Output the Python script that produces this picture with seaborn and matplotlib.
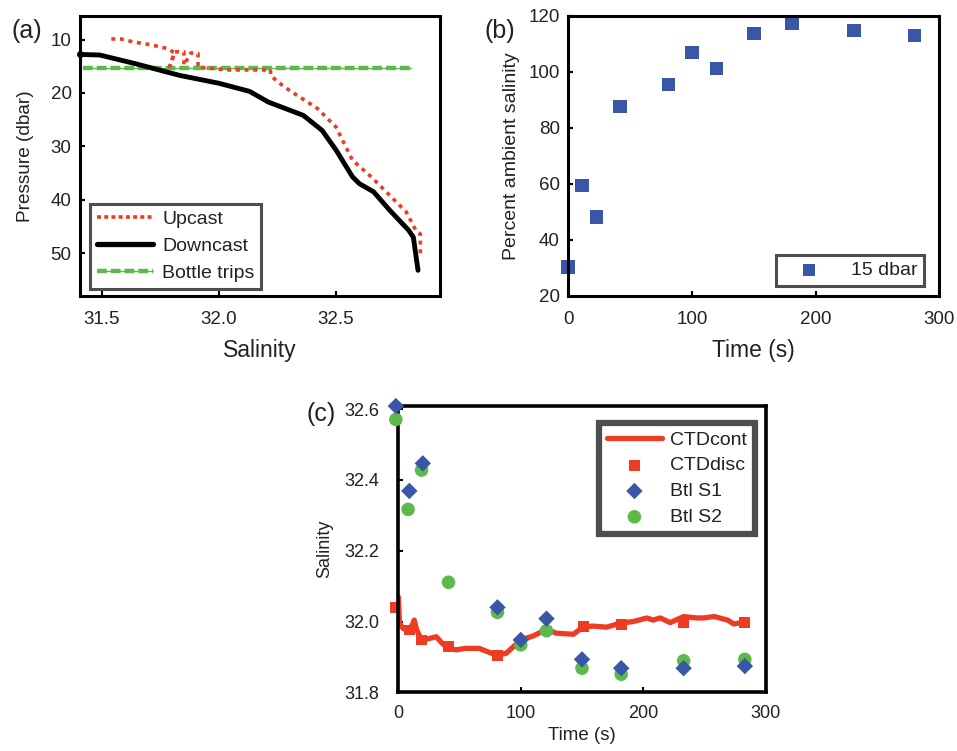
import numpy as np
import pandas as pd
import matplotlib
matplotlib.use("Agg")
import matplotlib.pyplot as plt
import seaborn as sns
from matplotlib.lines import Line2D

# ---------------- data ----------------
# (a) profiles
down_sal = [31.406, 31.49, 31.64, 31.83, 32.00, 32.13, 32.21, 32.36, 32.44, 32.50,
            32.57, 32.60, 32.66, 32.73, 32.81, 32.83, 32.85]
down_pres = [12.8, 12.9, 14.5, 16.7, 18.2, 19.7, 21.7, 24.2, 27.0, 30.7,
             35.7, 37.0, 38.5, 42.0, 45.7, 47.0, 53.2]

up_sal = [32.86, 32.86, 32.84, 32.80, 32.73, 32.65, 32.57, 32.52, 32.50, 32.42,
          32.30, 32.25, 32.22, 32.22, 32.12, 32.03, 31.95, 31.91, 31.91, 31.88,
          31.85, 31.85, 31.81, 31.79, 31.81, 31.78, 31.71, 31.64, 31.58, 31.54]
up_pres = [50.0, 46.4, 45.7, 42.3, 39.2, 35.7, 32.6, 28.2, 26.4, 22.9,
           19.5, 17.9, 16.7, 15.7, 15.7, 15.7, 15.3, 15.2, 12.6, 12.5,
           14.8, 12.3, 12.3, 15.0, 12.5, 11.7, 11.0, 10.5, 9.9, 9.9]

bottle_sal = [31.42, 32.82]
bottle_pres = [15.3, 15.3]

# (b) percent ambient salinity at 15 dbar
b_time = [0, 11, 23, 42, 81, 100, 120, 150, 181, 231, 280]
b_pct = [30.4, 59.4, 48.3, 87.6, 95.5, 106.9, 101.2, 113.7, 117.3, 114.8, 113.0]

# (c) salinity time series
cont_time = [0, 1, 4, 9, 12, 13, 15, 19, 23, 31, 36, 41, 47, 55, 66, 80, 88, 94,
             100, 110, 121, 129, 143, 151, 159, 170, 181, 192, 203, 208, 214, 222,
             233, 244, 249, 258, 269, 274, 282]
cont_sal = [32.07, 31.995, 31.98, 31.976, 31.995, 32.004, 31.976, 31.948, 31.95,
            31.957, 31.938, 31.924, 31.92, 31.924, 31.924, 31.905, 31.91, 31.929,
            31.948, 31.959, 31.978, 31.967, 31.964, 31.985, 31.987, 31.984, 31.995,
            32.0, 32.01, 32.004, 32.01, 31.997, 32.014, 32.01, 32.01, 32.014, 32.004,
            31.993, 31.998]
disc_time = [-2, 9, 19, 41, 81, 151, 182, 233, 283]
disc_sal = [32.04, 31.976, 31.948, 31.929, 31.904, 31.985, 31.992, 31.998, 31.998]
s1_time = [-2, 9, 20, 81, 100, 121, 150, 182, 233, 283]
s1_sal = [32.609, 32.369, 32.447, 32.04, 31.948, 32.008, 31.893, 31.868, 31.868, 31.874]
s2_time = [-2, 8, 19, 41, 81, 100, 121, 150, 182, 233, 283]
s2_sal = [32.571, 32.317, 32.428, 32.111, 32.026, 31.934, 31.974, 31.868, 31.851, 31.889, 31.893]

RED = "#EE3B24"
BLUE = "#3A56A6"
GREEN = "#5DB94A"
UP_DASH = (0, (1.1, 1.3))

sns.set_theme(style="white")
plt.rcParams["font.family"] = ["Liberation Sans", "DejaVu Sans"]
plt.rcParams["text.color"] = "#222222"
plt.rcParams["axes.labelcolor"] = "#222222"
plt.rcParams["xtick.color"] = "black"
plt.rcParams["ytick.color"] = "black"
plt.rcParams["xtick.labelcolor"] = "#222222"
plt.rcParams["ytick.labelcolor"] = "#222222"

fig = plt.figure(figsize=(9.57, 7.51), dpi=100)
ax_a = fig.add_axes([0.0836, 0.6059, 0.3762, 0.3728])
ax_b = fig.add_axes([0.5938, 0.6059, 0.3877, 0.3728])
ax_c = fig.add_axes([0.4162, 0.0782, 0.3839, 0.3816])


def style_axes(ax, lw=2.2):
    for s in ax.spines.values():
        s.set_visible(True)
        s.set_color("black")
        s.set_linewidth(lw)
    ax.tick_params(direction="in", length=3.5, width=1.5, bottom=True, left=True,
                   top=False, right=False)


# ---------------- (a) ----------------
sns.lineplot(x=bottle_sal, y=bottle_pres, ax=ax_a, color=GREEN, lw=1.0, sort=False,
             estimator=None, legend=False)
sns.lineplot(x=bottle_sal, y=bottle_pres, ax=ax_a, color=GREEN, lw=3.2, sort=False,
             estimator=None, legend=False, linestyle=(0, (2.2, 0.9)))
sns.lineplot(x=down_sal, y=down_pres, ax=ax_a, color="black", lw=3.5, sort=False,
             estimator=None, legend=False)
sns.lineplot(x=up_sal, y=up_pres, ax=ax_a, color=RED, lw=2.6, sort=False,
             estimator=None, legend=False, linestyle=UP_DASH)
ax_a.plot([down_sal[0]], [down_pres[0]], "o", color="black", ms=4, clip_on=False)
ax_a.set_xlim(31.406, 32.944)
ax_a.set_ylim(58, 5.6)
ax_a.set_xticks([31.5, 32.0, 32.5])
ax_a.set_xticklabels(["31.5", "32.0", "32.5"])
ax_a.set_yticks([10, 20, 30, 40, 50])
style_axes(ax_a)
ax_a.tick_params(axis="x", labelsize=13.5, pad=11)
ax_a.tick_params(axis="y", labelsize=13.5, pad=6)
ax_a.set_xlabel("Salinity", fontsize=16.5, labelpad=8)
ax_a.set_ylabel("Pressure (dbar)", fontsize=13.7, labelpad=12)

h_up = Line2D([], [], color=RED, lw=2.6, linestyle=(0, (1.1, 0.9)))
h_down = Line2D([], [], color="black", lw=3.8)
h_b1 = Line2D([], [], color=GREEN, lw=1.0)
h_b2 = Line2D([], [], color=GREEN, lw=3.2, linestyle=(0, (2.2, 0.9)))
leg_a = ax_a.legend([h_up, h_down, (h_b1, h_b2)], ["Upcast", "Downcast", "Bottle trips"],
                    loc="lower left", bbox_to_anchor=(0.028, 0.025), borderaxespad=0,
                    fontsize=14, frameon=True, fancybox=False, handlelength=2.9,
                    handletextpad=0.45, labelspacing=0.48, borderpad=0.35)
leg_a.get_frame().set_edgecolor("#222222")
leg_a.get_frame().set_linewidth(2.2)
fig.text(0.012, 0.975, "(a)", fontsize=18, va="top", ha="left")

# ---------------- (b) ----------------
sns.scatterplot(x=b_time, y=b_pct, ax=ax_b, marker="s", s=95, color=BLUE,
                edgecolor="none", clip_on=False, label="15 dbar")
ax_b.set_xlim(0, 300)
ax_b.set_ylim(20, 120)
ax_b.set_xticks([0, 100, 200, 300])
ax_b.set_yticks([20, 40, 60, 80, 100, 120])
style_axes(ax_b)
ax_b.tick_params(axis="x", labelsize=13.5, pad=11)
ax_b.tick_params(axis="y", labelsize=13.5, pad=6)
ax_b.set_xlabel("Time (s)", fontsize=16.5, labelpad=8)
ax_b.set_ylabel("Percent ambient salinity", fontsize=14, labelpad=6)
leg_b = ax_b.legend(loc="lower left", bbox_to_anchor=(0.56, 0.036), borderaxespad=0,
                    fontsize=14, frameon=True, fancybox=False, handlelength=2.7,
                    handletextpad=0.8, borderpad=0.35, markerscale=0.85)
leg_b.get_frame().set_edgecolor("#222222")
leg_b.get_frame().set_linewidth(2.2)
fig.text(0.506, 0.975, "(b)", fontsize=18, va="top", ha="left")

# ---------------- (c) ----------------
sns.lineplot(x=cont_time, y=cont_sal, ax=ax_c, color=RED, lw=3.8, sort=False,
             estimator=None, label="CTDcont")
sns.scatterplot(x=disc_time, y=disc_sal, ax=ax_c, marker="s", s=60, color=RED,
                edgecolor="none", clip_on=False, label="CTDdisc")
sns.scatterplot(x=s1_time, y=s1_sal, ax=ax_c, marker="D", s=70, color=BLUE,
                edgecolor="none", clip_on=False, label="Btl S1", zorder=4)
sns.scatterplot(x=s2_time, y=s2_sal, ax=ax_c, marker="o", s=95, color=GREEN,
                edgecolor="none", clip_on=False, label="Btl S2", zorder=3)
ax_c.set_xlim(0, 300)
ax_c.set_ylim(31.8, 32.61)
ax_c.set_xticks([0, 100, 200, 300])
ax_c.set_yticks([31.8, 32.0, 32.2, 32.4, 32.6])
ax_c.set_yticklabels(["31.8", "32.0", "32.2", "32.4", "32.6"])
style_axes(ax_c, lw=2.6)
ax_c.tick_params(axis="x", labelsize=13, pad=9)
ax_c.tick_params(axis="y", labelsize=13, pad=14)
ax_c.set_xlabel("Time (s)", fontsize=13.5, labelpad=4)
ax_c.set_ylabel("Salinity", fontsize=13, labelpad=8)
leg_c = ax_c.legend(loc="upper right", bbox_to_anchor=(0.971, 0.939), borderaxespad=0,
                    fontsize=14, frameon=True, fancybox=False, handlelength=2.8,
                    handletextpad=0.45, labelspacing=0.42, borderpad=0.4)
leg_c.get_frame().set_edgecolor("#222222")
leg_c.get_frame().set_linewidth(4.5)
fig.text(0.320, 0.465, "(c)", fontsize=18, va="top", ha="left")

fig.savefig("out.png", dpi=100)
